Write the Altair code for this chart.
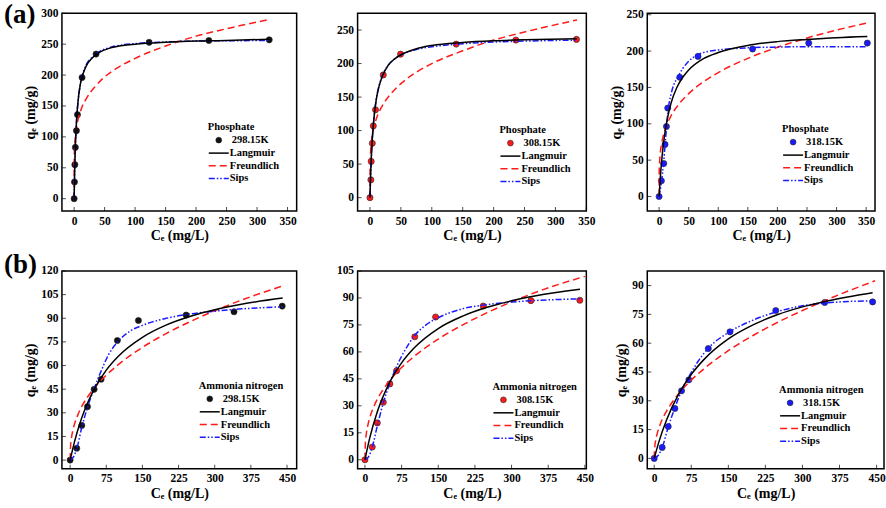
import altair as alt
import pandas as pd

FONT = "Liberation Serif"

# ---------------- (a) Phosphate ----------------
# 298.15K
p1_exp_x = [0, 0.6, 1.2, 2.0, 3.8, 5.5, 13, 36, 123, 221, 320]
p1_exp_y = [0, 27, 55, 83, 110, 136, 196, 234, 253, 256, 257]
p1_lang_x = [0, 1, 2, 4, 6, 10, 15, 20, 30, 40, 60, 80, 100, 150, 200, 250, 320]
p1_lang_y = [0, 49, 83, 127, 153, 184, 203, 215, 228, 236, 244, 248, 250, 253, 255, 256, 258]
p1_fr_x = [0, 0.05, 0.2, 0.5, 1, 2, 4, 7, 12, 20, 35, 50, 75, 100, 150, 200, 250, 320]
p1_fr_y = [0, 46, 62, 75, 87, 100, 116, 130, 146, 162, 182, 197, 214, 227, 247, 263, 275, 290]
p1_sips_x = [0, 1, 2, 4, 6, 10, 15, 20, 30, 40, 60, 80, 100, 150, 200, 250, 320]
p1_sips_y = [0, 47, 82, 127, 153, 185, 205, 217, 229, 237, 245, 249, 251, 253.5, 255, 255.5, 256]

# 308.15K
p2_exp_x = [0, 1.5, 2, 3.8, 5.4, 9, 21.5, 49.5, 139.5, 236, 334]
p2_exp_y = [0, 26.5, 54, 81, 107, 131, 183, 214, 229, 235, 236]
p2_lang_x = [0, 1, 2, 4, 6, 10, 15, 20, 30, 40, 50, 75, 100, 150, 200, 250, 335]
p2_lang_y = [0, 31, 56, 90, 114, 145, 167, 181, 198, 207, 213, 222, 227, 231.5, 234, 235.5, 237]
p2_fr_x = [0, 0.05, 0.2, 0.5, 1, 2, 4, 7, 12, 20, 35, 50, 75, 100, 150, 200, 250, 335]
p2_fr_y = [0, 34, 47, 58, 68, 80, 94, 107, 122, 137, 156, 170, 187, 200, 219, 235, 247, 265]
p2_sips_x = [0, 1, 2, 4, 6, 10, 15, 20, 30, 40, 50, 75, 100, 150, 200, 250, 335]
p2_sips_y = [0, 30, 55, 91, 115, 146, 168, 182, 198, 207, 213, 221, 225, 229.5, 232, 233.5, 235]

# 318.15K
p3_exp_x = [0, 3.9, 7.9, 10, 12.4, 14.6, 34.9, 65.8, 158, 253, 352]
p3_exp_y = [0, 21.6, 45.4, 71.6, 96.3, 121.6, 164, 192.7, 202.8, 211, 211]
p3_lang_x = [0, 2, 5, 10, 15, 20, 30, 40, 50, 75, 100, 150, 200, 250, 300, 352]
p3_lang_y = [0, 25.6, 54.8, 88.5, 111, 128, 150, 164, 174, 189.6, 198, 207.8, 213, 216, 218.4, 220]
p3_fr_x = [0, 0.05, 0.2, 0.5, 1, 2, 4, 7, 12, 20, 35, 50, 75, 100, 150, 200, 250, 352]
p3_fr_y = [0, 22, 32, 41, 49.6, 60, 72, 83.5, 96.5, 110.7, 128.6, 141.5, 157.8, 170.4, 190, 205.2, 218, 238.8]
p3_sips_x = [0, 4, 8, 10, 12.5, 15, 20, 25, 30, 40, 50, 65, 80, 100, 150, 200, 250, 352]
p3_sips_y = [0, 20, 50, 70, 95, 117, 140, 154, 162, 176, 186, 195, 199, 201.5, 204.5, 205.5, 206, 206]

# ---------------- (b) Ammonia nitrogen ----------------
# 298.15K
p4_exp_x = [0, 13.8, 24.2, 36, 49.8, 64.3, 98, 141.7, 240.7, 340, 440]
p4_exp_y = [0, 7.5, 22, 33.9, 44.9, 51.3, 75.9, 88.6, 92, 94.1, 97.7]
p4_lang_x = [0, 10, 20, 30, 50, 75, 100, 150, 200, 250, 300, 350, 441]
p4_lang_y = [0, 12.7, 23.1, 31.6, 45, 57.1, 65.9, 77.9, 85.8, 91.3, 95.4, 98.6, 102.8]
p4_fr_x = [0, 1, 3, 6, 10, 16, 25, 35, 50, 75, 100, 150, 200, 250, 300, 350, 441]
p4_fr_y = [0, 9.3, 14.5, 19.3, 23.7, 28.7, 34.5, 39.5, 45.7, 53.9, 60.6, 71.5, 80.4, 88, 94.8, 100.9, 110.5]
p4_sips_x = [0, 7, 14, 24, 36, 50, 65, 80, 100, 125, 150, 200, 250, 300, 350, 441]
p4_sips_y = [0, 2, 7.5, 20.5, 33.5, 45.5, 57, 67, 75.5, 82, 85.5, 90, 92.8, 94.5, 95.8, 97.3]

# 308.15K
p5_exp_x = [0, 15, 25.3, 37.6, 51, 64.8, 102, 144.6, 242, 339.5, 439.7]
p5_exp_y = [0, 7.1, 20.5, 32, 42.2, 49.5, 68.4, 79.4, 85.5, 88.5, 88.7]
p5_lang_x = [0, 10, 25, 50, 75, 100, 150, 200, 250, 300, 350, 440]
p5_lang_y = [0, 12.3, 26.4, 42.8, 53.9, 62, 73, 79.9, 84.8, 88.4, 91.2, 94.8]
p5_fr_x = [0, 1, 3, 6, 10, 16, 25, 35, 50, 75, 100, 150, 200, 250, 300, 350, 450]
p5_fr_y = [0, 9.6, 14.7, 19.2, 23.5, 28.1, 33.5, 38.1, 43.8, 51.3, 57.3, 67.1, 75, 81.8, 87.8, 93.2, 102]
p5_sips_x = [0, 7, 15, 25, 38, 51, 65, 80, 100, 125, 150, 200, 250, 300, 350, 440]
p5_sips_y = [0, 1.5, 7, 18.5, 32, 42.5, 52, 60, 68.5, 75, 79, 84, 86.3, 87.7, 88.6, 89.5]

# 318.15K
p6_exp_x = [0, 16.2, 28.4, 41.9, 55.4, 70.2, 109.5, 153.4, 246, 345, 442]
p6_exp_y = [0, 5.7, 16.6, 26, 35.2, 40.9, 57.2, 65.9, 77, 81.2, 81.5]
p6_lang_x = [0, 10, 25, 50, 75, 100, 150, 200, 250, 300, 350, 442]
p6_lang_y = [0, 9, 20, 33.7, 43.7, 51.3, 62.2, 69.5, 74.9, 78.9, 82, 86.3]
p6_fr_x = [0, 1, 3, 6, 10, 16, 25, 35, 50, 75, 100, 150, 200, 250, 300, 350, 447]
p6_fr_y = [0, 5.6, 9.3, 12.8, 16.2, 20.1, 24.6, 28.7, 33.8, 40.8, 46.5, 56.1, 64, 70.9, 77, 82.7, 92.5]
p6_sips_x = [0, 8, 16, 28, 42, 55, 70, 90, 110, 150, 200, 250, 300, 350, 400, 442]
p6_sips_y = [0, 1.5, 5.5, 16, 26.5, 35, 42.5, 51, 57.5, 65.5, 72, 76.5, 79.5, 81, 81.8, 82]

top_xticks = [0, 50, 100, 150, 200, 250, 300, 350]
bot_xticks = [0, 75, 150, 225, 300, 375, 450]
p1_yticks = [0, 50, 100, 150, 200, 250, 300]
p23_yticks = [0, 50, 100, 150, 200, 250]
p4_yticks = [0, 15, 30, 45, 60, 75, 90, 105, 120]
p5_yticks = [0, 15, 30, 45, 60, 75, 90, 105]
p6_yticks = [0, 15, 30, 45, 60, 75, 90]

series_names = ["Langmuir", "Freundlich", "Sips"]

BLACK = "#000000"
RED = "#ff1a1a"
BLUE = "#1a1aff"
FR_DASH = [7, 4]
SIPS_DASH = [6, 2, 1.5, 2, 1.5, 2]

one = pd.DataFrame({"k": [0]})


def panel(exp_x, exp_y, lang, fr, sips, pcolor, xdom, ydom, xticks, yticks,
          w, h, show_ytitle, leg_title, temp, lx, ty, tag=None):
    xs = alt.Scale(domain=xdom, nice=False, zero=False)
    ys = alt.Scale(domain=ydom, nice=False, zero=False)
    xax = alt.Axis(values=xticks, title="Cₑ (mg/L)", labelFlush=False,
                   titlePadding=2)
    yax = alt.Axis(values=yticks, title="qₑ (mg/g)" if show_ytitle else None,
                   labelFlush=False, titlePadding=3)
    X = alt.X("x:Q", scale=xs, axis=xax)
    Y = alt.Y("y:Q", scale=ys, axis=yax)

    # inward ticks along the left and bottom frame
    xt = alt.Chart(pd.DataFrame({"x": xticks})).mark_tick(
        orient="vertical", size=4, thickness=1, color="black").encode(
        x=X, y=alt.value(h - 2))
    yt = alt.Chart(pd.DataFrame({"y": yticks})).mark_tick(
        orient="horizontal", size=4, thickness=1, color="black").encode(
        y=Y, x=alt.value(2))

    pts = alt.Chart(pd.DataFrame({"x": exp_x, "y": exp_y})).mark_point(
        filled=True, size=38, color=pcolor, stroke="#222222", strokeWidth=0.6,
        opacity=1).encode(x=X, y=Y)

    def curve(xy, col, dash):
        kw = dict(color=col, strokeWidth=1.5, interpolate="monotone", clip=True)
        if dash:
            kw["strokeDash"] = dash
        return alt.Chart(pd.DataFrame({"x": xy[0], "y": xy[1]})).mark_line(**kw).encode(x=X, y=Y)

    layers = [xt, yt, pts,
              curve(fr, RED, FR_DASH),
              curve(sips, BLUE, SIPS_DASH),
              curve(lang, BLACK, None)]

    # in-plot legend
    tkw = dict(align="left", baseline="middle", font=FONT, fontSize=10.5,
               fontWeight="bold", color="black")
    layers.append(alt.Chart(one).mark_text(text=leg_title, **tkw).encode(
        x=alt.value(lx - 1), y=alt.value(ty)))
    layers.append(alt.Chart(one).mark_point(filled=True, size=34, color=pcolor,
                                            stroke="#222222", strokeWidth=0.6, opacity=1).encode(
        x=alt.value(lx + 10), y=alt.value(ty + 13)))
    layers.append(alt.Chart(one).mark_text(text=temp, **tkw).encode(
        x=alt.value(lx + 23), y=alt.value(ty + 13)))
    for i, (name, col, dash) in enumerate(zip(series_names, [BLACK, RED, BLUE],
                                              [None, FR_DASH, SIPS_DASH])):
        yy = ty + 26 + i * 12.7
        rkw = dict(color=col, strokeWidth=1.5)
        if dash:
            rkw["strokeDash"] = dash
        layers.append(alt.Chart(one).mark_rule(**rkw).encode(
            x=alt.value(lx), x2=alt.value(lx + 20), y=alt.value(yy)))
        layers.append(alt.Chart(one).mark_text(text=name, **tkw).encode(
            x=alt.value(lx + 21), y=alt.value(yy)))
    if tag:
        layers.append(alt.Chart(one).mark_text(
            text=tag[0], align="left", baseline="top", font=FONT, fontSize=27,
            fontWeight="bold", color="black").encode(
            x=alt.value(-58), y=alt.value(tag[1])))
    return alt.layer(*layers).properties(width=w, height=h)


c1 = panel(p1_exp_x, p1_exp_y, (p1_lang_x, p1_lang_y), (p1_fr_x, p1_fr_y),
           (p1_sips_x, p1_sips_y), "#111111", [-20, 365], [-20, 300],
           top_xticks, p1_yticks, 235, 198, True, "Phosphate", "298.15K",
           147, 114, ("(a)", -11))
c2 = panel(p2_exp_x, p2_exp_y, (p2_lang_x, p2_lang_y), (p2_fr_x, p2_fr_y),
           (p2_sips_x, p2_sips_y), RED, [-20, 350], [-20, 275],
           top_xticks, p23_yticks, 229, 198, False, "Phosphate", "308.15K",
           143, 117)
c3 = panel(p3_exp_x, p3_exp_y, (p3_lang_x, p3_lang_y), (p3_fr_x, p3_fr_y),
           (p3_sips_x, p3_sips_y), BLUE, [-20, 365], [-20, 252],
           top_xticks, p23_yticks, 228, 198, True, "Phosphate", "318.15K",
           136, 116)
c4 = panel(p4_exp_x, p4_exp_y, (p4_lang_x, p4_lang_y), (p4_fr_x, p4_fr_y),
           (p4_sips_x, p4_sips_y), "#111111", [-17, 470], [-5.5, 120],
           bot_xticks, p4_yticks, 235, 198, True, "Ammonia nitrogen", "298.15K",
           138, 115, ("(b)", -19))
c5 = panel(p5_exp_x, p5_exp_y, (p5_lang_x, p5_lang_y), (p5_fr_x, p5_fr_y),
           (p5_sips_x, p5_sips_y), RED, [-15, 453], [-5, 105],
           bot_xticks, p5_yticks, 229, 198, False, "Ammonia nitrogen", "308.15K",
           136, 116)
c6 = panel(p6_exp_x, p6_exp_y, (p6_lang_x, p6_lang_y), (p6_fr_x, p6_fr_y),
           (p6_sips_x, p6_sips_y), BLUE, [-14, 465], [-5.4, 97.6],
           bot_xticks, p6_yticks, 237, 198, True, "Ammonia nitrogen", "318.15K",
           133, 119)

chart = alt.concat(c1, c2, c3, c4, c5, c6, columns=3,
                   spacing={"row": 60, "column": 61}, bounds="flush").properties(
    padding={"left": 3, "top": 0, "right": 0, "bottom": 0},
    background="white",
).configure_axis(
    labelFont=FONT, labelFontSize=11.5, labelFontWeight="bold", labelColor="black",
    titleFont=FONT, titleFontSize=14, titleFontWeight="bold", titleColor="black",
    grid=False, domain=False, ticks=False, labelPadding=4,
).configure_view(stroke="black", strokeWidth=1.5)

chart.save("out.html", embed_options={"renderer": "svg", "actions": False})
